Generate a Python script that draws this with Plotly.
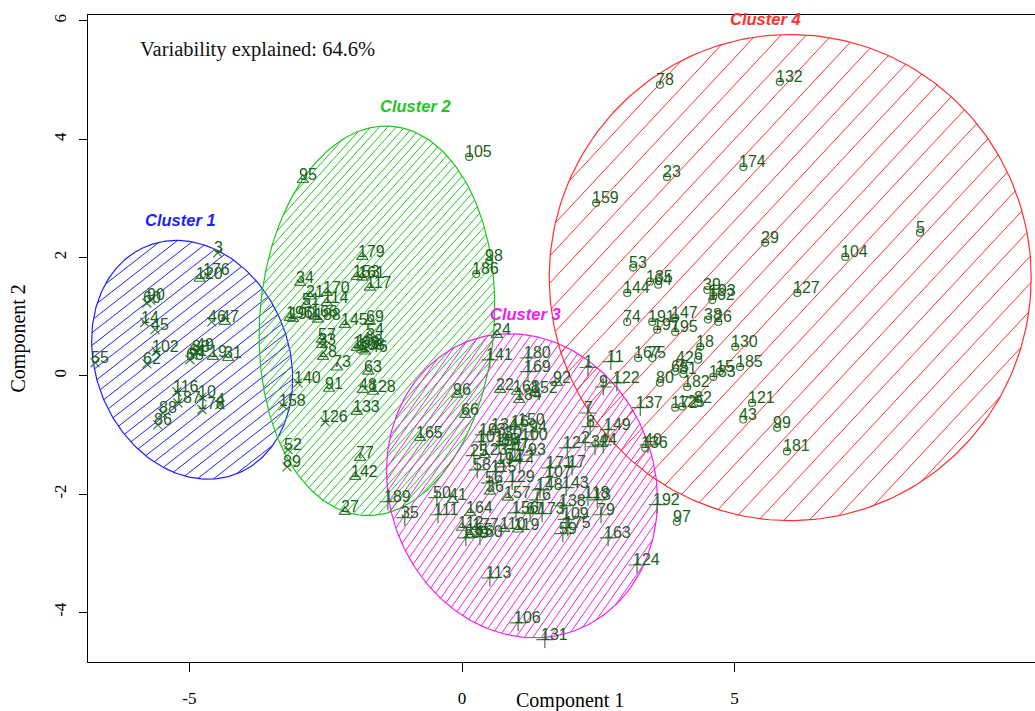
import numpy as np
import plotly.graph_objects as go

# ---------------- data ----------------
# points drawn with "x" (cluster-1 style)
x_labels = ["3", "176", "60", "90", "14", "45", "46", "102", "62", "55", "68", "61", "83", "49",
            "116", "10", "187", "178", "4", "88", "86", "140", "158", "126", "52", "89"]
x_c1 = [-4.48, -4.68, -5.78, -5.71, -5.82, -5.63, -4.59, -5.61, -5.78, -6.73, -4.99, -4.94, -4.88, -4.81,
        -5.23, -4.77, -5.21, -4.77, -4.44, -5.49, -5.58, -3.01, -3.28, -2.51, -3.19, -3.21]
x_c2 = [2.08, 1.71, 1.23, 1.28, 0.90, 0.78, 0.91, 0.41, 0.20, 0.22, 0.27, 0.34, 0.41, 0.44,
        -0.27, -0.36, -0.46, -0.57, -0.49, -0.63, -0.83, -0.12, -0.51, -0.78, -1.25, -1.54]

# points drawn with triangles (cluster-2 style)
t_labels = ["120", "47", "19", "31", "95", "179", "153", "161", "117", "34", "170", "21", "114", "51",
            "196", "190", "166", "188", "145", "69", "54", "57", "33", "28", "199", "108", "146", "198",
            "73", "63", "91", "48", "128", "133", "77", "142", "27", "165", "66", "96", "24", "92",
            "22", "168", "184", "152", "16", "36", "157", "110", "119", "112", "41", "164", "194",
            "123", "134", "155"]
t_c1 = [-4.81, -4.35, -4.57, -4.29, -2.92, -1.83, -1.93, -1.83, -1.69, -2.97, -2.48, -2.79, -2.48, -2.86,
        -3.16, -3.10, -2.70, -2.64, -2.15, -1.69, -1.69, -2.57, -2.57, -2.55, -1.93, -1.83, -1.78, -1.87,
        -2.29, -1.72, -2.44, -1.82, -1.63, -1.93, -1.87, -1.96, -2.15, -0.77, 0.06, -0.09, 0.64, 1.74,
        0.70, 1.01, 1.05, 1.34, 0.97, 0.51, 0.84, 0.77, 1.03, 0.00, -0.17, 0.15, 0.70,
        0.42, 0.61, 0.15]
t_c2 = [1.64, 0.91, 0.32, 0.30, 3.31, 2.01, 1.67, 1.66, 1.49, 1.57, 1.40, 1.34, 1.23, 1.20,
        0.98, 0.96, 1.00, 0.95, 0.86, 0.91, 0.69, 0.61, 0.52, 0.32, 0.47, 0.44, 0.41, 0.51,
        0.14, 0.07, -0.22, -0.24, -0.27, -0.61, -1.39, -1.71, -2.30, -1.05, -0.66, -0.32, 0.69, -0.12,
        -0.24, -0.27, -0.41, -0.29, -0.86, -1.96, -2.06, -2.59, -2.60, -2.57, -2.10, -2.32, -1.50,
        -1.34, -0.91, -2.69]

# points drawn with "+" (cluster-3 style)
p_labels = ["141", "180", "169", "103", "101", "94", "154", "93", "25", "58", "129", "56", "76", "171",
            "17", "107", "148", "143", "138", "118", "13", "79", "156", "67", "173", "109", "160", "139",
            "175", "59", "113", "106", "131", "163", "124", "192", "40", "149", "44", "32", "12", "2",
            "7", "8", "9", "122", "11", "1", "137", "189", "35", "50", "111", "85", "87", "71", "72",
            "100", "115", "30", "150", "177"]
p_c1 = [0.51, 1.21, 1.21, 0.39, 0.35, 1.30, 0.68, 1.28, 0.22, 0.28, 0.92, 0.50, 1.38, 1.61,
        2.02, 1.60, 1.43, 1.91, 1.85, 2.31, 2.48, 2.55, 0.99, 1.25, 1.47, 1.91, 0.33, 0.07,
        1.94, 1.85, 0.51, 1.03, 1.52, 2.68, 3.21, 3.58, 3.41, 2.68, 2.59, 2.44, 1.93, 2.26,
        2.31, 2.35, 2.59, 2.84, 2.73, 2.31, 3.27, -1.36, -1.05, -0.46, -0.44, 0.79, 0.97, 0.88, 1.06,
        1.16, 0.61, 0.84, 1.10, 0.26]
p_c2 = [0.27, 0.30, 0.07, -1.00, -1.12, -0.95, -1.18, -1.34, -1.35, -1.59, -1.79, -1.81, -2.10, -1.56,
        -1.54, -1.72, -1.93, -1.89, -2.20, -2.06, -2.10, -2.35, -2.32, -2.33, -2.33, -2.43, -2.72, -2.74,
        -2.57, -2.67, -3.42, -4.18, -4.46, -2.74, -3.20, -2.18, -1.17, -0.91, -1.17, -1.20, -1.22, -1.13,
        -0.63, -0.86, -0.19, -0.12, 0.24, 0.14, -0.54, -2.13, -2.40, -2.06, -2.35, -1.17, -1.25, -1.42, -1.45,
        -1.08, -1.62, -1.05, -0.83, -2.60]

# points drawn with circles (cluster-4 style)
o_labels = ["105", "98", "186", "97", "136", "78", "132", "23", "174", "159", "29", "104", "5", "127",
            "53", "135", "64", "144", "74", "191", "197", "147", "195", "39", "162", "193", "26", "38",
            "18", "42", "6", "65", "81", "80", "182", "172", "82", "125", "130", "15", "185", "183",
            "121", "43", "99", "181", "167", "75"]
o_c1 = [0.13, 0.50, 0.26, 3.94, 3.36, 3.63, 5.83, 3.76, 5.16, 2.46, 5.56, 7.03, 8.40, 6.15,
        3.14, 3.45, 3.60, 3.03, 3.03, 3.49, 3.58, 3.91, 3.91, 4.50, 4.59, 4.61, 4.70, 4.51,
        4.37, 4.00, 4.33, 3.91, 4.06, 3.63, 4.13, 3.91, 4.33, 4.04, 5.01, 4.73, 5.10, 4.61,
        5.32, 5.16, 5.78, 5.96, 3.23, 3.49]
o_c2 = [3.70, 1.94, 1.72, -2.47, -1.22, 4.92, 4.97, 3.36, 3.53, 2.92, 2.25, 2.01, 2.42, 1.40,
        1.83, 1.59, 1.54, 1.40, 0.91, 0.91, 0.78, 0.98, 0.74, 1.45, 1.28, 1.35, 0.91, 0.95,
        0.49, 0.22, 0.27, 0.07, 0.03, -0.12, -0.19, -0.54, -0.46, -0.52, 0.49, 0.07, 0.15, -0.02,
        -0.46, -0.74, -0.88, -1.28, 0.30, 0.30]

# cluster ellipses: centre, semi-axes, rotation (deg)
clus_names = ["Cluster 1", "Cluster 2", "Cluster 3", "Cluster 4"]
ell_cx = [-4.95, -1.56, 1.10, 6.02]
ell_cy = [0.27, 0.93, -1.86, 1.66]
ell_a = [2.10, 3.30, 2.65, 4.42]
ell_b = [1.75, 2.15, 2.40, 4.11]
ell_rot = [120, 85, 125, 0]
clus_label_x = [-5.17, -0.86, 1.16, 5.56]
clus_label_y = [2.64, 4.56, 1.05, 6.04]

variability = 64.6

# ---------------- style ----------------
clus_colors = ["#1f1fff", "#1ec81e", "#f020f0", "#ff3030"]
hatch_angle = [38, 48, 55, 47]      # degrees, screen space
hatch_space = [10, 6.3, 7, 18.5]    # pixels
PT_COL = "#3c7d3c"
TXT_COL = "#1c5e1c"

W, H = 1035, 711
ML, MR, MT, MB = 88, 0, 15, 49
PW, PH = W - ML - MR, H - MT - MB
X_RANGE = [-6.86, 10.51]
Y_RANGE = [-4.84, 6.10]
sx = PW / (X_RANGE[1] - X_RANGE[0])
sy = PH / (Y_RANGE[1] - Y_RANGE[0])


def ellipse_matrix(a, b, rot):
    t = np.deg2rad(rot)
    R = np.array([[np.cos(t), -np.sin(t)], [np.sin(t), np.cos(t)]])
    return R @ np.diag([a, b])


def ellipse_outline(cx, cy, a, b, rot, n=240):
    M = ellipse_matrix(a, b, rot)
    t = np.linspace(0, 2 * np.pi, n)
    pts = M @ np.vstack([np.cos(t), np.sin(t)])
    return cx + pts[0], cy + pts[1]


def ellipse_hatch(cx, cy, a, b, rot, ang, space):
    S = np.diag([sx, sy])
    A = S @ ellipse_matrix(a, b, rot)
    Ai = np.linalg.inv(A)
    C = np.array([cx * sx, cy * sy])
    phi = np.deg2rad(ang)
    u = np.array([np.cos(phi), np.sin(phi)])
    nrm = np.array([-np.sin(phi), np.cos(phi)])
    h = np.linalg.norm(A.T @ nrm)
    v = Ai @ u
    xs, ys = [], []
    k0 = int(np.floor(-h / space))
    k1 = int(np.ceil(h / space))
    for k in range(k0, k1 + 1):
        s = k * space + space * 0.3
        q0 = s * (Ai @ nrm)
        aa = v @ v
        bb = 2 * q0 @ v
        cc = q0 @ q0 - 1
        disc = bb * bb - 4 * aa * cc
        if disc <= 0:
            continue
        r = np.sqrt(disc)
        t1, t2 = (-bb - r) / (2 * aa), (-bb + r) / (2 * aa)
        p1 = C + s * nrm + t1 * u
        p2 = C + s * nrm + t2 * u
        xs += [p1[0] / sx, p2[0] / sx, None]
        ys += [p1[1] / sy, p2[1] / sy, None]
    return xs, ys


fig = go.Figure()

for i in range(4):
    hx, hy = ellipse_hatch(ell_cx[i], ell_cy[i], ell_a[i], ell_b[i], ell_rot[i],
                           hatch_angle[i], hatch_space[i])
    fig.add_trace(go.Scatter(x=hx, y=hy, mode="lines",
                             line=dict(color=clus_colors[i], width=1),
                             hoverinfo="skip", showlegend=False))
    ox, oy = ellipse_outline(ell_cx[i], ell_cy[i], ell_a[i], ell_b[i], ell_rot[i])
    fig.add_trace(go.Scatter(x=ox, y=oy, mode="lines",
                             line=dict(color=clus_colors[i], width=1.2),
                             hoverinfo="skip", showlegend=False))

groups = [
    (x_labels, x_c1, x_c2, "x-thin-open", 9),
    (t_labels, t_c1, t_c2, "triangle-up-open", 10),
    (p_labels, p_c1, p_c2, "cross-thin-open", 12),
    (o_labels, o_c1, o_c2, "circle-open", 7),
]
annotations = []
for labs, c1, c2, sym, size in groups:
    fig.add_trace(go.Scatter(x=c1, y=c2, mode="markers", text=labs,
                             marker=dict(symbol=sym, size=size,
                                         line=dict(color=PT_COL, width=1.2), color=PT_COL),
                             showlegend=False))
    for lab, xv, yv in zip(labs, c1, c2):
        annotations.append(dict(x=xv, y=yv, text=lab, showarrow=False,
                                xanchor="left", yanchor="bottom", xshift=-6, yshift=-5,
                                font=dict(family="Liberation Sans, Arial", size=16, color=TXT_COL)))

for i in range(4):
    annotations.append(dict(x=clus_label_x[i], y=clus_label_y[i], text="<b><i>%s</i></b>" % clus_names[i],
                            showarrow=False, xanchor="center", yanchor="middle",
                            font=dict(family="Liberation Sans, Arial", size=16.5, color=clus_colors[i])))

SERIF = "Liberation Serif, Times New Roman"
annotations.append(dict(x=(138 - ML) / PW, y=1 - (49 - MT) / PH, xref="paper", yref="paper",
                        text="Variability explained: %.1f%%" % variability,
                        showarrow=False, xanchor="left", yanchor="middle",
                        font=dict(family=SERIF, size=20.5, color="#111")))
annotations.append(dict(x=(570 - ML) / PW, y=-(700 - (H - MB)) / PH, xref="paper", yref="paper",
                        text="Component 1", showarrow=False, xanchor="center", yanchor="middle",
                        font=dict(family=SERIF, size=20, color="black")))
annotations.append(dict(x=-(ML - 18) / PW, y=0.5, xref="paper", yref="paper",
                        text="Component 2", showarrow=False, xanchor="center", yanchor="middle",
                        textangle=-90, font=dict(family=SERIF, size=20, color="black")))

fig.update_layout(
    width=W, height=H,
    margin=dict(l=ML, r=MR, t=MT, b=MB),
    plot_bgcolor="white", paper_bgcolor="white",
    annotations=annotations,
    font=dict(family=SERIF, size=16, color="black"),
    xaxis=dict(range=X_RANGE, tickvals=[-5, 0, 5], ticktext=["-5", "0", "5"],
               showgrid=False, zeroline=False, showline=True, linecolor="black", linewidth=1,
               mirror=True, ticks="outside", ticklen=9, tickcolor="black", automargin=False,
               ticklabelstandoff=12, tickfont=dict(family=SERIF, size=17)),
    yaxis=dict(range=Y_RANGE, tickvals=[-4, -2, 0, 2, 4, 6], ticktext=["-4", "-2", "0", "2", "4", "6"],
               showgrid=False, zeroline=False, showline=True, linecolor="black", linewidth=1,
               ticks="outside", ticklen=8, tickcolor="black", tickangle=-90, automargin=False,
               ticklabelstandoff=6, tickfont=dict(family=SERIF, size=17)),
)

fig.write_html("out.html", config={"displayModeBar": False},
               post_script="document.body.style.margin='0px';document.body.style.padding='0px';"
                           "document.body.style.overflow='hidden';")
